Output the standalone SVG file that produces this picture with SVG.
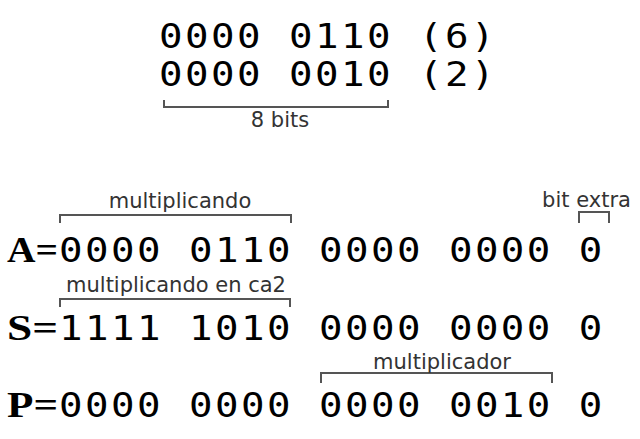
<svg xmlns="http://www.w3.org/2000/svg" width="640" height="439" viewBox="0 0 640 439">
<style>
.mono{font-family:"DejaVu Sans Mono","Liberation Mono",monospace;font-size:34px;letter-spacing:2.14px;fill:#000}
.reg{font-family:"Liberation Serif","DejaVu Serif",serif;font-weight:bold;font-size:35px;fill:#000}
.lbl{font-family:"DejaVu Sans","Liberation Sans",sans-serif;font-size:21px;fill:#333;text-anchor:middle}
.br{fill:none;stroke:#555;stroke-width:2}
</style>
<rect width="640" height="439" fill="#fff"/>
<g id="operands">
<text class="mono" transform="translate(159,48) scale(1.15,1)">0000 0110 (6)</text>
<text class="mono" transform="translate(159,86) scale(1.15,1)">0000 0010 (2)</text>
</g>
<g id="rowA">
<text class="reg" x="7" y="262" textLength="51" lengthAdjust="spacingAndGlyphs">A=</text>
<text class="mono" transform="translate(59,262) scale(1.15,1)">0000 0110 0000 0000 0</text>
</g>
<g id="rowS">
<text class="reg" x="7" y="340" textLength="51" lengthAdjust="spacingAndGlyphs">S=</text>
<text class="mono" transform="translate(59,340) scale(1.15,1)">1111 1010 0000 0000 0</text>
</g>
<g id="rowP">
<text class="reg" x="7" y="417" textLength="51" lengthAdjust="spacingAndGlyphs">P=</text>
<text class="mono" transform="translate(59,417) scale(1.15,1)">0000 0000 0000 0010 0</text>
</g>
<g id="connectors">
<path class="br" d="M164,100 V107 H388 V100"/>
<path class="br" d="M60,223 V215 H291 V223"/>
<path class="br" d="M60,307 V299 H290 V307"/>
<path class="br" d="M321,383 V373 H552 V383"/>
<path class="br" d="M579,223 V212 H609 V223"/>
</g>
<g id="labels">
<text class="lbl" x="280" y="127">8 bits</text>
<text class="lbl" x="180" y="208">multiplicando</text>
<text class="lbl" x="176" y="292">multiplicando en ca2</text>
<text class="lbl" x="442" y="369">multiplicador</text>
<text class="lbl" x="586.5" y="207">bit extra</text>
</g>
</svg>
